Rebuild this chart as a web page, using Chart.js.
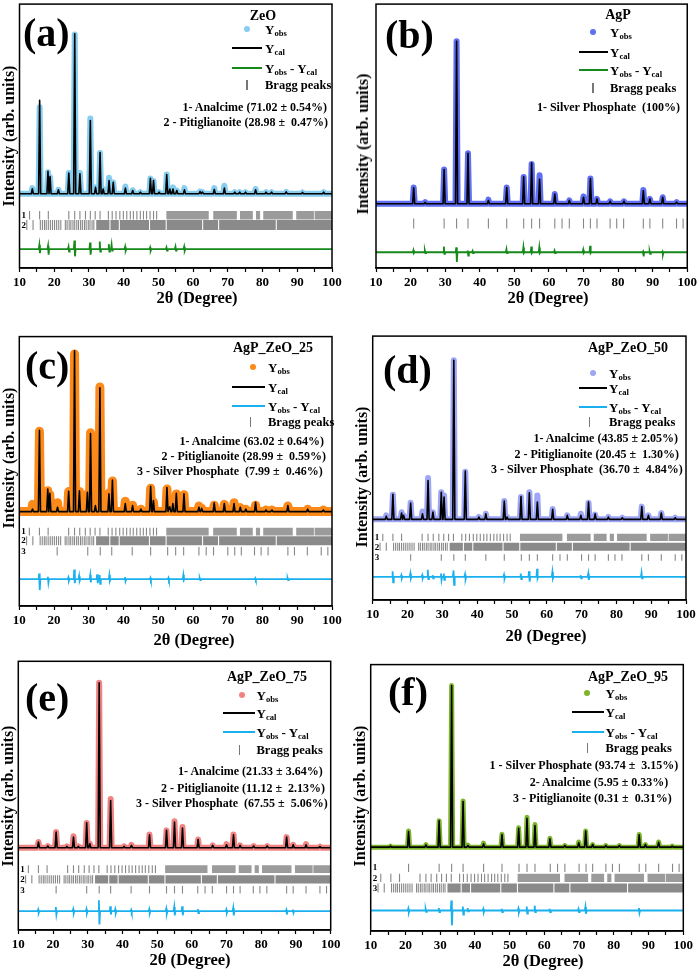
<!DOCTYPE html>
<html>
<head>
<meta charset="utf-8">
<script src="https://cdn.jsdelivr.net/npm/chart.js@4.4.1/dist/chart.umd.min.js"></script>
<style>
  body { margin: 0; background: #fff; }
  #fig { position: relative; width: 700px; height: 973px; overflow: hidden;
         font-family: 'Liberation Serif', 'Times New Roman', serif; font-weight: bold; color: #000; }
  #fig canvas { position: absolute; }
  .t { position: absolute; white-space: pre; line-height: 1; }
  .t sub { font-size: 66%; vertical-align: -0.3em; line-height: 0; }
  .sym { position: absolute; }
</style>
</head>
<body>
<div id="fig"></div>
<script>
const FONT = "'Liberation Serif', 'Times New Roman', serif";
const ANGLE_TICKS = [10, 20, 30, 40, 50, 60, 70, 80, 90, 100];

// Bragg reflection rows (2θ), sparse ticks + dense stretches
const analcimeTicks = [12.9, 15.8, 18.3, 24.2, 25.9, 27.4, 29.0, 30.4, 31.8, 33.2, 35.6, 36.7, 37.8, 38.9, 39.9,
  40.9, 41.9, 42.8, 43.8, 44.8, 45.7, 46.6, 47.6, 48.6, 49.5];
const analcimeBands = [[52.3, 64.5], [65.8, 72.6], [73.5, 77.2], [78.1, 79.3], [80.2, 88.7], [89.7, 94.8], [95.0, 100]];
const pitiglianoiteTicks = [12.1, 13.9, 16.0, 16.6, 17.2, 17.7, 18.3, 18.9, 19.5, 20.1, 20.7, 21.3, 21.9,
  23.2, 23.7, 24.3, 24.8, 25.4, 25.9, 26.5, 27.0, 27.6, 28.1, 28.7, 29.2, 29.8, 30.3, 30.9, 31.4];
const pitiglianoiteBands = [[32.1, 35.9], [36.2, 38.6], [38.9, 47.3], [47.6, 52.1], [52.4, 62.6], [62.9, 67.2],
  [67.5, 83.8], [84.1, 100]];
const silverPhosphateTicks = [20.9, 29.7, 33.3, 36.6, 42.5, 47.8, 52.7, 55.0, 57.3, 61.7, 63.8, 65.9, 70.0, 72.0,
  73.9, 77.7, 79.6, 81.6, 87.3, 89.2, 92.9, 96.9, 98.8];

// (a) ZeO
const zeoPeaks = [13.7, 15.8, 18.2, 18.8, 21.2, 24.2, 25.9, 27.4, 30.4, 31.9, 33.2, 34.1, 35.8, 37.0, 40.5, 42.6, 44.8,
  47.7, 48.6, 50.2, 52.4, 53.3, 54.2, 55.3, 57.5, 62.0, 62.7, 66.1, 69.0, 72.0, 73.4, 75.1, 78.0, 81.0, 82.6, 86.8, 91.5, 97.6];
const zeoCalc = [3.1, 58.4, 14.0, 10.7, 2.5, 13.0, 100, 12.4, 45.8, 4.0, 25.8, 3.0, 8.2, 7.2, 3.5, 2.0, 1.0,
  9.7, 8.2, 1.0, 12.0, 3.0, 3.0, 2.0, 2.5, 1.4, 1.0, 2.7, 3.5, 1.0, 1.0, 1.0, 2.5, 1.0, 1.0, 1.2, 0.8, 1.0];
const zeoObs = [3.5, 54, 13.5, 10.5, 2.5, 13, 99.5, 13, 47, 4, 25.5, 3, 10, 7, 4.5, 2.2, 1,
  9.5, 8, 1, 12, 3, 4, 2, 3.5, 1.4, 1, 3.5, 5, 1, 1, 1, 3, 1, 1, 1.2, 0.8, 1];
const zeoDiffPos = [15.8, 18.3, 24.2, 25.9, 30.4, 33.2, 35.8, 36.6, 40.5, 47.7, 52.4, 55.0, 57.5];
const zeoDiffUp = [2.5, 2, 1.5, 5.4, 4.1, 4.7, 3.1, 2.7, 1.5, 1, 1, 1.5, 1.5];
const zeoDiffDown = [2.5, 3.5, 1.5, 4.5, 3.5, 1.5, 1.5, 1, 1, 1, 1, 1, 1];
const zeoPhases = ['1- Analcime (71.02 ± 0.54%)', '2 - Pitiglianoite (28.98 ±  0.47%)'];

// (b) AgP
const agpPeaks = [20.9, 24.2, 29.7, 33.3, 36.6, 42.5, 47.8, 52.7, 55.0, 57.3, 61.7, 65.9, 70.0, 72.0, 73.9, 77.7, 81.7,
  87.3, 89.2, 92.9, 96.9];
const agpCalc = [9.8, 0.8, 21, 100, 31, 2, 10, 16.5, 25, 15, 6, 2, 4, 15.5, 3, 1.5, 1.5, 8, 3, 4, 1];
const agpObs = [10, 1, 21, 100, 31, 2.5, 10, 16.5, 24.5, 17.5, 6, 2, 4.5, 15.5, 3, 1.5, 1.5, 8.5, 3, 4, 1];
const agpDiffPos = [20.9, 24.2, 29.7, 33.3, 36.6, 38.0, 47.8, 52.7, 55.0, 57.3, 61.7, 70.0, 72.0, 87.3, 89.2, 92.9];
const agpDiffUp = [1.2, 1, 3.5, 3, 1, 0.8, 1.8, 3, 3.5, 3, 1, 1.5, 4, 0.5, 0.5, 0.5];
const agpDiffDown = [0.5, 0.5, 1, 6, 2, 0.5, 0.5, 0.5, 0.5, 0.5, 0.5, 0.5, 0.5, 2.6, 1, 1.4];
const agpPhases = ['1- Silver Phosphate  (100%)'];

// (c) AgP_ZeO_25
const mix25Peaks = [13.8, 15.8, 18.2, 18.8, 21.0, 24.2, 25.9, 27.3, 29.6, 30.5, 31.9, 33.2, 35.8, 36.8, 40.5, 42.6, 45.0,
  47.8, 48.6, 52.5, 53.3, 54.2, 55.2, 57.4, 61.7, 62.5, 66.1, 69.0, 71.8, 73.6, 75.2, 78.0, 81.0, 82.7, 87.3, 93.0, 97.5];
const mix25Calc = [1.6, 50.5, 14, 11.3, 2.7, 12.6, 100, 13, 12, 48.5, 3.7, 77, 11, 19.6, 5, 3.7, 1.5,
  15.7, 6.8, 15, 3, 5, 11.3, 11, 2.7, 2, 5.4, 5, 5, 2.7, 1.5, 5.8, 1, 1, 3.7, 1.5, 1];
const mix25Obs = [4.5, 50, 13, 10.5, 5.5, 12.5, 98, 12.5, 11, 49, 3.5, 77.5, 11.5, 19, 6.5, 4, 1.5,
  14.5, 6, 14, 3, 5, 11, 10.5, 3.5, 2, 4, 4.5, 5.5, 2.5, 1.5, 4, 1, 1, 3.5, 1.5, 1];
const mix25DiffPos = [15.8, 18.3, 24.2, 25.9, 27.3, 30.5, 32.5, 33.2, 36.0, 40.5, 47.8, 53.0, 57.3, 62.0, 78.0, 87.3];
const mix25DiffUp = [3.5, 1.5, 1, 6, 2, 2.5, 3, 2.5, 2.5, 1.2, 0.8, 0.8, 2.5, 0.6, 0.6, 0.6];
const mix25DiffDown = [6.8, 2.2, 1, 2.5, 1, 2, 2.5, 3, 1, 1.2, 0.8, 0.8, 0.6, 0.6, 0.6, 0.6];
const mix25Phases = ['1- Analcime (63.02 ± 0.64%)', '2 - Pitiglianoite (28.99 ±  0.59%)', '3 - Silver Phosphate  (7.99 ±  0.46%)'];

// (d) AgP_ZeO_50
const mix50Peaks = [13.9, 15.8, 18.3, 18.9, 20.9, 24.3, 25.9, 27.3, 29.7, 30.5, 33.3, 36.6, 40.5, 42.5, 47.8, 48.6,
  52.6, 55.0, 57.3, 61.7, 65.9, 69.8, 72.0, 73.9, 77.7, 81.7, 87.3, 89.2, 92.9, 96.9];
const mix50Calc = [2, 15.7, 4, 2.5, 10.2, 3.5, 24.4, 4.6, 17, 14, 100, 30.3, 1.5, 3.5, 11.5, 1.5,
  14.4, 16.7, 10.9, 6.3, 2.5, 2.5, 10.9, 3.5, 1.5, 1, 8.1, 2.5, 4, 1];
const mix50Obs = [2.5, 15.5, 4.5, 2.5, 10.5, 5, 26, 4.5, 17, 15, 100, 30, 1.5, 3.5, 11.5, 1.5,
  14, 17, 15, 6.5, 2.5, 3.5, 10.5, 3, 1.5, 1, 8, 2.5, 4, 1];
const mix50DiffPos = [15.8, 18.3, 20.9, 24.3, 25.9, 27.3, 29.7, 30.5, 33.3, 36.6, 47.8, 52.6, 55.0, 57.3, 61.7, 69.8, 72.0, 87.3];
const mix50DiffUp = [3.5, 1, 2, 1, 4.4, 1, 2, 2, 4, 1.5, 1.2, 2, 3.5, 5, 3, 1, 2, 2.5];
const mix50DiffDown = [3.5, 1, 1, 1, 1.5, 1, 2, 2, 5, 1.5, 1.2, 1.5, 3, 1, 1, 1, 2, 1];
const mix50Phases = ['1- Analcime (43.85 ± 2.05%)', '2 - Pitiglianoite (20.45 ±  1.30%)', '3 - Silver Phosphate  (36.70 ±  4.84%)'];

// (e) AgP_ZeO_75
const mix75Peaks = [15.8, 18.5, 20.9, 24.0, 25.9, 27.3, 29.7, 30.6, 33.3, 36.6, 40.5, 42.6, 47.8, 52.7, 55.0, 57.3,
  61.8, 66.0, 70.0, 72.0, 73.9, 77.8, 81.7, 87.3, 89.2, 92.9, 96.9];
const mix75Calc = [3.4, 1, 9.5, 0.8, 6.4, 0.8, 15.1, 2.4, 100, 28.6, 0.8, 1.4, 7.8, 10.5, 15.5, 11.9,
  5, 1.4, 1.8, 7.8, 1.4, 1, 1, 6.4, 1.8, 1.8, 0.6];
const mix75Obs = [3.5, 1, 9.5, 0.8, 7, 0.8, 15, 2.5, 100, 29.5, 0.8, 1.8, 8, 10.5, 16, 12.5,
  5, 1.4, 2.2, 8, 1.4, 1, 1, 6.4, 1.8, 2.2, 0.6];
const mix75DiffPos = [15.8, 20.9, 25.9, 29.7, 33.3, 36.6, 38.0, 42.6, 47.8, 52.7, 55.0, 57.3, 61.8, 70.0, 72.0, 87.3, 89.2];
const mix75DiffUp = [1, 2.5, 1.2, 1.2, 6.6, 3, 1.2, 0.8, 1.2, 1.5, 2.5, 3, 1.2, 1, 2, 0.8, 1];
const mix75DiffDown = [1, 2, 1.2, 1.2, 8, 2, 1.2, 0.8, 1.2, 1.5, 2.5, 2.5, 1.2, 1, 2.5, 2, 1];
const mix75Phases = ['1- Analcime (21.33 ± 3.64%)', '2 - Pitiglianoite (11.12 ±  2.13%)', '3 - Silver Phosphate  (67.55 ±  5.06%)'];

// (f) AgP_ZeO_95
const mix95Peaks = [15.7, 20.9, 25.9, 29.7, 33.3, 36.6, 38.0, 42.5, 47.8, 52.6, 55.0, 57.3, 61.6, 65.9, 69.9, 71.9,
  73.9, 77.7, 81.6, 87.3, 89.1, 92.9, 96.8];
const mix95Calc = [0.6, 9.7, 1.4, 16.4, 100, 28.3, 1, 2, 7.8, 11.7, 17.9, 13.3, 5.1, 1, 2.7, 9.9, 1.6, 1, 1, 7.6, 1.6, 3, 0.6];
const mix95Obs = [0.6, 10, 1.6, 16.4, 100, 28.5, 1.2, 2.5, 8, 12, 18.5, 14, 5.5, 1, 3.2, 10, 1.6, 1, 1, 7.8, 1.6, 3.2, 0.6];
const mix95DiffPos = [20.9, 25.9, 29.7, 33.3, 36.6, 38.0, 42.5, 47.8, 52.6, 55.0, 57.3, 61.6, 69.9, 71.9, 87.3];
const mix95DiffUp = [1.2, 0.8, 1.5, 6.2, 2.5, 1.5, 1, 1, 1.2, 2.5, 3, 1, 1, 2.2, 1.5];
const mix95DiffDown = [1.2, 0.8, 1, 9.2, 2.5, 0.5, 1, 1, 1.2, 2, 1, 1, 1, 2, 1.5];
const mix95Phases = ['1 - Silver Phosphate (93.74 ±  3.15%)', '2- Analcime (5.95 ± 0.33%)', '3 - Pitiglianoite (0.31 ±  0.31%)'];

const ANA = { ticks: analcimeTicks, bands: analcimeBands, band: '#9b9b9b' };
const PIT = { ticks: pitiglianoiteTicks, bands: pitiglianoiteBands, band: '#8a8a8a' };
const SIL = { ticks: silverPhosphateTicks, bands: [], band: '#8a8a8a' };
const GREEN = '#15891a', CYAN = '#1ab0ee';

const panels = [
  { tag: '(a)', name: 'ZeO', peaks: zeoPeaks, calc: zeoCalc, obs: zeoObs,
    dPos: zeoDiffPos, dUp: zeoDiffUp, dDown: zeoDiffDown, phases: zeoPhases, bragg: [ANA, PIT],
    obsColor: '#86cdf0', diffColor: GREEN, obsWidth: 6,
    box: { L: 19.5, R: 332, T: 2, B: 268 }, yMin: -46.4, yMax: 118.5, rows: [[-13.4, 4.3], [-19.6, 5]], diffY: -34.6,
    lg: { name: [263, 16], dot: 247, tx: 265, line: [232, 262], ys: [29, 48, 68, 85], tick: 247,
          phR: [327, 328], phY: [107, 122], tagXY: [23, 36], yT: [8.5, 136], xT: [197, 298] } },
  { tag: '(b)', name: 'AgP', peaks: agpPeaks, calc: agpCalc, obs: agpObs,
    dPos: agpDiffPos, dUp: agpDiffUp, dDown: agpDiffDown, phases: agpPhases, bragg: [SIL], noRowNumbers: true,
    obsColor: '#5f6ef2', diffColor: GREEN, obsWidth: 6,
    box: { L: 376, R: 689, T: 2, B: 268 }, yMin: -39.6, yMax: 122.9, rows: [[-12.2, 5]], diffY: -29.9,
    lg: { name: [618, 15], dot: 593.3, tx: 610, line: [579, 608], ys: [32.3, 51.7, 70, 88], tick: 593,
          phR: [680], phY: [107], tagXY: [385, 38], yT: [362.7, 143.5], xT: [548, 298] } },
  { tag: '(c)', name: 'AgP_ZeO_25', peaks: mix25Peaks, calc: mix25Calc, obs: mix25Obs,
    dPos: mix25DiffPos, dUp: mix25DiffUp, dDown: mix25DiffDown, phases: mix25Phases, bragg: [ANA, PIT, SIL],
    obsColor: '#fb8a1b', diffColor: CYAN, obsWidth: 9,
    box: { L: 19.3, R: 332, T: 335, B: 606 }, yMin: -58.7, yMax: 108.8, rows: [[-12.4, 3.9], [-18.2, 4.5], [-24.7, 4.2]], diffY: -42,
    lg: { name: [273, 348], dot: 253.3, tx: 268, line: [232, 265], ys: [366.7, 386.7, 406, 421.7], tick: 250.7,
          phR: [324, 326, 322.7], phY: [440.7, 456, 470.7], tagXY: [25, 369], yT: [9.3, 458], xT: [194, 640] } },
  { tag: '(d)', name: 'AgP_ZeO_50', peaks: mix50Peaks, calc: mix50Calc, obs: mix50Obs,
    dPos: mix50DiffPos, dUp: mix50DiffUp, dDown: mix50DiffDown, phases: mix50Phases, bragg: [ANA, PIT, SIL],
    obsColor: '#9ea6f6', diffColor: CYAN, obsWidth: 6,
    box: { L: 372.7, R: 686, T: 335, B: 600 }, yMin: -50.7, yMax: 115.2, rows: [[-11.3, 3.7], [-17.3, 4], [-24, 3.3]], diffY: -36.1,
    lg: { name: [628, 348.3], dot: 593.3, tx: 609, line: [579, 607], ys: [373.3, 388.3, 406.7, 421.7], tick: 589.3,
          phR: [678, 679, 682.7], phY: [438.3, 454.3, 469.3], tagXY: [383, 373], yT: [361.7, 476.5], xT: [546, 636] } },
  { tag: '(e)', name: 'AgP_ZeO_75', peaks: mix75Peaks, calc: mix75Calc, obs: mix75Obs,
    dPos: mix75DiffPos, dUp: mix75DiffUp, dDown: mix75DiffDown, phases: mix75Phases, bragg: [ANA, PIT, SIL],
    obsColor: '#f28383', diffColor: CYAN, obsWidth: 6,
    box: { L: 18.3, R: 330.7, T: 660, B: 930 }, yMin: -49.9, yMax: 113, rows: [[-13, 3.8], [-19.2, 4.2], [-25.5, 3.8]], diffY: -38.5,
    lg: { name: [267, 676.7], dot: 241.7, tx: 256.5, line: [223, 255], ys: [695, 713.3, 732.3, 750], tick: 239.3,
          phR: [322.7, 325, 327.7], phY: [771, 787.7, 803.3], tagXY: [25, 701], yT: [8.3, 796], xT: [190, 960] } },
  { tag: '(f)', name: 'AgP_ZeO_95', peaks: mix95Peaks, calc: mix95Calc, obs: mix95Obs,
    dPos: mix95DiffPos, dUp: mix95DiffUp, dDown: mix95DiffDown, phases: mix95Phases, bragg: [SIL, ANA, PIT],
    obsColor: '#7db52a', diffColor: CYAN, obsWidth: 5,
    box: { L: 370.7, R: 683.3, T: 663, B: 931 }, yMin: -51.9, yMax: 113, rows: [[-12.8, 4.2], [-19, 4.2], [-25.3, 4.5]], diffY: -39.2,
    lg: { name: [628, 676.7], dot: 587.3, tx: 605.5, line: [571.7, 604], ys: [693.3, 711.7, 732.3, 748.3], tick: 587.3,
          phR: [678.3, 668.3, 671.7], phY: [765, 781.7, 797.7], tagXY: [388, 695], yT: [360, 796], xT: [543, 961] } }
];

const fig = document.getElementById('fig');
const AXIS_H = 24;

function profile(pos, h, w) {
  const pts = [{ x: 10, y: 0 }];
  pos.forEach((p, i) => pts.push({ x: p - w, y: 0 }, { x: p, y: h[i] }, { x: p + w, y: 0 }));
  pts.push({ x: 100, y: 0 });
  return pts;
}

function diffLine(pos, up, down, off) {
  const pts = [{ x: 10, y: off }];
  pos.forEach((p, i) => pts.push({ x: p - 0.25, y: off }, { x: p - 0.08, y: off + up[i] },
    { x: p + 0.08, y: off - down[i] }, { x: p + 0.25, y: off }));
  pts.push({ x: 100, y: off });
  return pts;
}

const framePlugin = {
  id: 'frame',
  afterDatasetsDraw(chart) {
    const { ctx, chartArea: a } = chart;
    ctx.save();
    ctx.strokeStyle = '#000';
    ctx.lineWidth = 1.5;
    ctx.strokeRect(a.left, a.top, a.right - a.left, a.bottom - a.top);
    ctx.restore();
  }
};

function put(html, x, y, size, align, extra) {
  const d = document.createElement('div');
  d.className = 't';
  d.innerHTML = html;
  d.style.left = x + 'px';
  d.style.top = y + 'px';
  d.style.fontSize = size + 'px';
  const tx = align === 'right' ? '-100%' : align === 'center' ? '-50%' : '0';
  d.style.transform = `translate(${tx},-50%)` + (extra || '');
  fig.appendChild(d);
  return d;
}

function sym(x, y, w, h, color, round) {
  const d = document.createElement('div');
  d.className = 'sym';
  d.style.left = (x - w / 2) + 'px';
  d.style.top = (y - h / 2) + 'px';
  d.style.width = w + 'px';
  d.style.height = h + 'px';
  d.style.background = color;
  if (round) d.style.borderRadius = '50%';
  fig.appendChild(d);
}

panels.forEach(p => {
  const col = p.box.L > 300 ? 1 : 0;
  const cx = col * 350, cy = p.box.T - 4;
  const canvas = document.createElement('canvas');
  canvas.width = 350;
  canvas.height = p.box.B - cy + AXIS_H;
  canvas.style.left = cx + 'px';
  canvas.style.top = cy + 'px';
  fig.appendChild(canvas);

  const datasets = [
    { data: profile(p.peaks, p.calc, 0.3), showLine: true, borderColor: '#000', borderWidth: 1.6,
      borderJoinStyle: 'round', pointRadius: 0, order: 0 },
    { data: profile(p.peaks, p.obs, 0.3), showLine: true, borderColor: p.obsColor, borderWidth: p.obsWidth,
      borderJoinStyle: 'round', borderCapStyle: 'round', pointRadius: 0, order: 3 },
    { data: diffLine(p.dPos, p.dUp, p.dDown, p.diffY), showLine: true, borderColor: p.diffColor, borderWidth: 1.8,
      pointRadius: 0, order: 1 }
  ];
  p.bragg.forEach((ph, r) => {
    const [ry, half] = p.rows[r];
    datasets.push({ data: ph.ticks.map(x => ({ x, y: ry })), showLine: false, pointStyle: 'line', rotation: 90,
      pointRadius: half, pointBorderColor: '#878787', pointBorderWidth: 1.1, order: 2 });
    if (ph.bands.length) {
      const pts = [];
      ph.bands.forEach(([a, b]) => pts.push({ x: a, y: ry }, { x: b, y: ry }, { x: b, y: null }));
      datasets.push({ data: pts, showLine: true, spanGaps: false, borderColor: ph.band, borderWidth: half * 2,
        borderCapStyle: 'butt', pointRadius: 0, order: 2 });
    }
  });

  new Chart(canvas, {
    type: 'scatter',
    data: { datasets },
    options: {
      responsive: false,
      animation: false,
      events: [],
      layout: { padding: { left: p.box.L - cx, right: cx + 350 - p.box.R, top: 4, bottom: 0 } },
      plugins: { legend: { display: false }, tooltip: { enabled: false } },
      scales: {
        x: {
          type: 'linear', min: 10, max: 100,
          afterFit: s => { s.height = AXIS_H; },
          ticks: { stepSize: 5, autoSkip: false, maxRotation: 0, padding: 3, color: '#000',
                   font: { family: FONT, size: 13, weight: 'bold' },
                   callback: v => ANGLE_TICKS.includes(v) ? String(v) : '' },
          grid: { drawOnChartArea: false, drawTicks: true, tickLength: 4, tickColor: '#000', tickWidth: 1.2 },
          border: { display: true, color: '#000', width: 1.5 }
        },
        y: { display: false, min: p.yMin, max: p.yMax }
      }
    },
    plugins: [framePlugin]
  });

  // text layer
  const lg = p.lg;
  const toPage = v => p.box.T + (p.yMax - v) / (p.yMax - p.yMin) * (p.box.B - p.box.T);
  put(p.tag, lg.tagXY[0], lg.tagXY[1] - 3, 40, 'left');
  put(p.name, lg.name[0], lg.name[1], 14, 'center');
  sym(lg.dot, lg.ys[0], 6, 6, p.obsColor, true);
  put('Y<sub>obs</sub>', lg.tx, lg.ys[0], 13, 'left');
  sym((lg.line[0] + lg.line[1]) / 2, lg.ys[1], lg.line[1] - lg.line[0], 2.2, '#000');
  put('Y<sub>cal</sub>', lg.tx, lg.ys[1], 13, 'left');
  sym((lg.line[0] + lg.line[1]) / 2, lg.ys[2], lg.line[1] - lg.line[0], 2.2, p.diffColor);
  put('Y<sub>obs</sub> - Y<sub>cal</sub>', lg.tx, lg.ys[2], 13, 'left');
  sym(lg.tick, lg.ys[3], 1.2, 10, '#777');
  put('Bragg peaks', lg.tx, lg.ys[3], 12.5, 'left');
  p.phases.forEach((s, i) => put(s, lg.phR[i], lg.phY[i], 12, 'right'));
  if (!p.noRowNumbers) p.rows.forEach(([ry], i) => put(String(i + 1), p.box.L + 2, toPage(ry), 9, 'left'));
  put('Intensity (arb. units)', lg.yT[0], lg.yT[1], 16, 'center', ' rotate(-90deg)');
  put('2θ (Degree)', lg.xT[0], lg.xT[1], 16.5, 'center');
});
</script>
</body>
</html>
